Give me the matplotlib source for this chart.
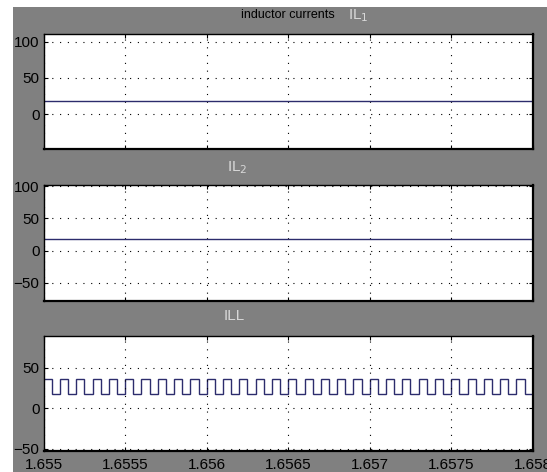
import numpy as np
import matplotlib.pyplot as plt
from matplotlib.patches import Rectangle

# time window of the scope (s)
t_start, t_end = 1.655, 1.658
x_ticks = [1.655, 1.6555, 1.656, 1.6565, 1.657, 1.6575, 1.658]
x_tick_labels = ['1.655', '1.6555', '1.656', '1.6565', '1.657', '1.6575', '1.658']

# IL1 and IL2 are flat
il1_level = 18.0
il2_level = 17.3

# ILL: square wave, 30 pulses over the window
ill_high = 35.7
ill_low = 17.2
ill_pulses = 30

il1_yticks = [0, 50, 100]
il2_yticks = [-50, 0, 50, 100]
ill_yticks = [-50, 0, 50]

BG = '#808080'
LINE = '#2c2c6c'
FONT = ['Liberation Sans Narrow', 'Liberation Sans', 'DejaVu Sans']

plt.rcParams['font.family'] = FONT

fig = plt.figure(figsize=(5.47, 4.72), dpi=100, facecolor='white')
fig.patches.append(Rectangle((12.6 / 547, 0), 1, 1 - 7 / 472, transform=fig.transFigure,
                             facecolor=BG, edgecolor='none', zorder=-10))

L = 43.6 / 547
W = (532.8 - 43.6) / 547


def px_axes(top, bottom):
    return fig.add_axes([L, 1 - bottom / 472, W, (bottom - top) / 472])


def style(ax, yticks, ylim, show_x):
    ax.set_facecolor('white')
    ax.set_xlim(t_start, t_end)
    ax.set_ylim(*ylim)
    ax.set_yticks(yticks)
    ax.set_xticks(x_ticks)
    if show_x:
        ax.set_xticklabels(x_tick_labels)
    else:
        ax.set_xticklabels([])
    ax.grid(True, color='black', linestyle=(0, (1, 6)), linewidth=0.8)
    ax.tick_params(direction='in', length=3, width=0.8, top=True, right=True,
                   labelsize=11, colors='black', pad=3)
    ax.tick_params(axis='x', pad=5)
    for s in ax.spines.values():
        s.set_color('black')
        s.set_linewidth(1.0)
    ax.spines['bottom'].set_linewidth(1.6)
    ax.spines['right'].set_linewidth(1.6)


ax1 = px_axes(33.8, 149)
ax1.plot([t_start, t_end], [il1_level, il1_level], color=LINE, lw=1)
style(ax1, il1_yticks, (-48, 111), False)

ax2 = px_axes(185.1, 301.3)
ax2.plot([t_start, t_end], [il2_level, il2_level], color=LINE, lw=1)
style(ax2, il2_yticks, (-79, 102), False)

ax3 = px_axes(335.5, 451.3)
edges = np.linspace(t_start, t_end, 2 * ill_pulses + 1)
levels = [ill_high, ill_low] * ill_pulses
ax3.stairs(levels, edges, color=LINE, lw=1, baseline=None)
style(ax3, ill_yticks, (-53, 89.5), True)

fig.text(288 / 547, 1 - 15 / 472, 'inductor currents', ha='center', va='center',
         fontsize=9, color='black')
fig.text(358 / 547, 1 - 16 / 472, 'IL$_1$', ha='center', va='center',
         fontsize=11, color='#d8d8d8')
fig.text(237 / 547, 1 - 168 / 472, 'IL$_2$', ha='center', va='center',
         fontsize=11, color='#d8d8d8')
fig.text(234 / 547, 1 - 316 / 472, 'ILL', ha='center', va='center',
         fontsize=11, color='#d8d8d8')

fig.savefig('out.png', dpi=100, facecolor=fig.get_facecolor())
